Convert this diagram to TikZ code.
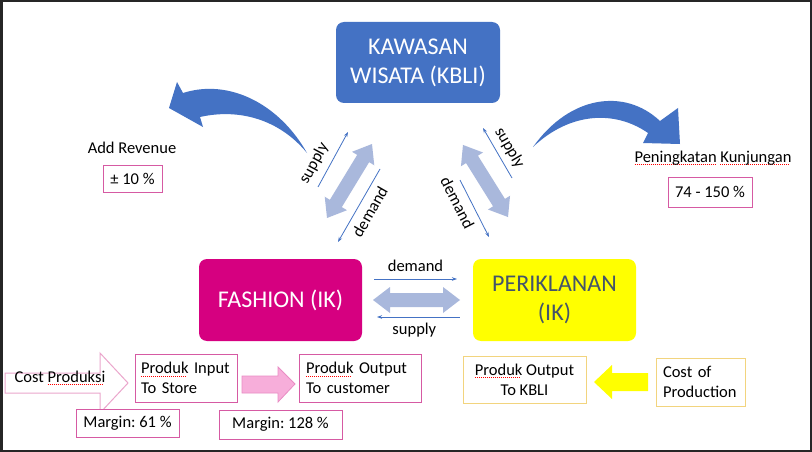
\documentclass[tikz,border=0pt]{standalone}
\usepackage{fontspec}
\setmainfont{Carlito}
\usetikzlibrary{arrows.meta}
\frenchspacing
% red spell-check marks under a word
\newcommand\typo[1]{\setbox0\hbox{#1}\rlap{\color{red}\leaders\hbox{\rule[-3pt]{1pt}{0.8pt}\hskip1pt}\hskip\wd0\relax}\box0\relax}
\definecolor{kblue}{HTML}{4472C4}
\definecolor{fashpink}{HTML}{D60080}
\definecolor{iklanyellow}{HTML}{FFFF00}
\definecolor{slatetext}{HTML}{44546A}
\definecolor{fatblue}{HTML}{A9B8DC}
\definecolor{boxpink}{HTML}{D65AA3}
\definecolor{arrowpink}{HTML}{F7AEDA}
\definecolor{arrowpinkline}{HTML}{E98CC4}
\definecolor{costline}{HTML}{EBA6CC}
\definecolor{boxyellow}{HTML}{F2D47E}
\tikzset{
  x=1pt, y=-1pt,
  >={Stealth[length=5pt,width=3.5pt]},
  bigbox/.style={rounded corners=8pt, minimum width=163pt, minimum height=82pt,
    inner sep=0pt, align=center, font=\fontsize{24}{29}\selectfont},
  flow/.style={font=\fontsize{16.5}{20}\selectfont, text=black},
  smallbox/.style={flow, draw=boxpink, line width=1pt, fill=white, inner sep=0pt},
  thinline/.style={kblue, line width=0.8pt},
  pics/fatarrow/.style={code={
    \fill[fatblue] ({-#1},0) -- ({-#1+17},-13) -- ({-#1+17},-7) -- ({#1-17},-7)
      -- ({#1-17},-13) -- ({#1},0) -- ({#1-17},13) -- ({#1-17},7)
      -- ({-#1+17},7) -- ({-#1+17},13) -- cycle;}}
}
\begin{document}
\begin{tikzpicture}
\useasboundingbox (0,0) rectangle (812,452);
\fill[white] (0,0) rectangle (812,452);

% main blocks
\node[bigbox, fill=kblue, text=white, minimum width=164pt, minimum height=81pt] (kawasan) at (418,62.5) {KAWASAN\\WISATA (KBLI)};
\node[bigbox, fill=fashpink, text=white] (fashion) at (280.5,300) {FASHION (IK)};
\node[bigbox, fill=iklanyellow, text=slatetext] (iklan) at (554.5,300) {PERIKLANAN\\(IK)};

% curved arrows
\fill[kblue] (307,153) .. controls (280,105) and (230,78) .. (183,93) -- (177,82) -- (169,108)
  -- (203,127) -- (200,117) .. controls (240,108) and (280,120) .. (307,153) -- cycle;
\fill[kblue] (533,147) .. controls (570,95) and (625,88) .. (660,121) -- (678,108) -- (680,144)
  -- (643,143) -- (648,133) .. controls (615,110) and (570,112) .. (533,147) -- cycle;

% fat double arrows
\pic[rotate=58.7] at (349.5,181) {fatarrow=43.3};
\pic[rotate=-58] at (485.5,181) {fatarrow=42.5};
\pic at (416.5,300) {fatarrow=43.5};

% supply / demand
\coordinate (ls-a) at (318,187); \coordinate (ls-b) at (348,132);
\coordinate (ld-a) at (338,242); \coordinate (ld-b) at (380,169);
\coordinate (rs-a) at (483,128); \coordinate (rs-b) at (512,178);
\coordinate (rd-a) at (460,180); \coordinate (rd-b) at (489,237);
\coordinate (hd-a) at (374,279); \coordinate (hd-b) at (457,279);
\coordinate (hs-a) at (377,317); \coordinate (hs-b) at (460,317);
\draw[thinline,->] (ls-a) -- node[flow, sloped, above=4pt, pos=0.3] {supply} (ls-b);
\draw[thinline,<-] (ld-a) -- node[flow, sloped, below=3pt] {demand} (ld-b);
\draw[thinline,<-] (rs-a) -- node[flow, sloped, above=2pt, pos=0.53] {supply} (rs-b);
\draw[thinline,->] (rd-a) -- node[flow, sloped, below=3pt, pos=0.3] {demand} (rd-b);
\draw[thinline,->] (hd-a) -- node[flow, above=3.5pt] {demand} (hd-b);
\draw[thinline,<-] (hs-a) -- node[flow, below=2pt, pos=0.45] {supply} (hs-b);

% revenue and visits
\node[flow] (addrev) at (132,148) {Add Revenue};
\node[smallbox, minimum width=59pt, minimum height=27pt] (revenue) at (132.5,178.5) {± 10 \%};
\node[flow] (visits) at (713,158) {\typo{Peningkatan} \typo{Kunjungan}};
\node[smallbox, minimum width=84pt, minimum height=30pt] (visitpct) at (710,192) {74 - 150 \%};

% fashion chain
\draw[costline, line width=1pt, fill=white] (5,373) -- (100,373) -- (100,353) -- (128,383)
  -- (100,413) -- (100,393) -- (5,393) -- cycle;
\node[flow] (costin) at (60,378) {Cost \typo{Produksi}};
\node[smallbox, minimum height=48pt, text width=90pt, inner xsep=6pt, align=left] (input) at (186,378) {\typo{Produk} Input\\To Store};
\draw[arrowpinkline, line width=0.8pt, fill=arrowpink] (242,376) -- (278,376) -- (278,367) -- (295,384)
  -- (278,402) -- (278,393) -- (242,393) -- cycle;
\node[smallbox, minimum height=48pt, text width=108pt, inner xsep=7pt, align=left] (output) at (360,378) {\typo{Produk} Output\\To customer};
\node[smallbox, minimum width=103pt, minimum height=28pt] (marginin) at (127.5,423) {Margin: 61 \%};
\node[smallbox, minimum width=123pt, minimum height=29pt] (marginout) at (280.5,424.5) {Margin: 128 \%};

% iklan chain
\node[smallbox, draw=boxyellow, minimum width=123pt, minimum height=47pt, align=center] (kbli) at (524.5,379.5) {\typo{Produk} Output\\To KBLI};
\fill[iklanyellow] (594,382) -- (612,365) -- (612,373) -- (648,373) -- (648,391) -- (612,391) -- (612,399) -- cycle;
\node[smallbox, draw=boxyellow, minimum height=48pt, text width=75pt, inner xsep=7pt, align=left] (costof) at (700.5,382) {Cost of\\Production};

% frame
\draw[line width=2.5pt, black!85] (1.25,1.25) rectangle (810.75,450.75);
\end{tikzpicture}
\end{document}
